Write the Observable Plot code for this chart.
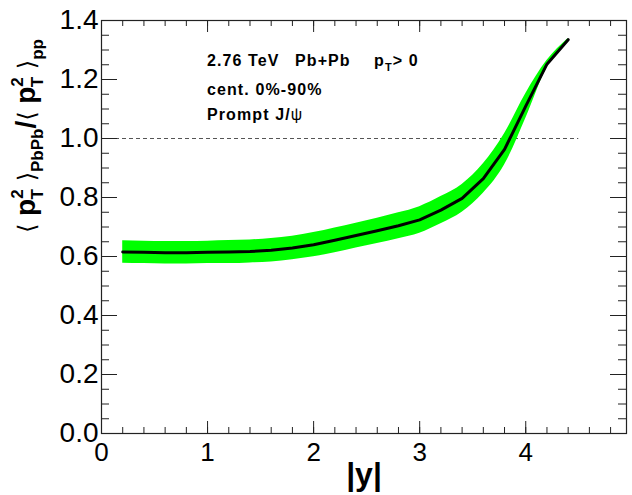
<!DOCTYPE html>
<html><head><meta charset="utf-8">
<script src="https://cdn.jsdelivr.net/npm/d3@7"></script>
<script src="https://cdn.jsdelivr.net/npm/@observablehq/plot@0.6"></script>
<style>body{margin:0;background:#fff;}</style>
</head><body><div id="chart"></div>
<script>
// |y| bins
const rapidity = [0.2,0.4,0.6,0.8,1.0,1.2,1.4,1.6,1.8,2.0,2.2,2.4,2.6,2.8,3.0,3.2,3.4,3.6,3.8,4.0,4.2,4.4];
// <pT^2>_PbPb / <pT^2>_pp central value
const ratio = [0.615,0.614,0.613,0.613,0.614,0.615,0.617,0.621,0.629,0.640,0.655,0.671,0.687,0.704,0.724,0.757,0.797,0.864,0.963,1.110,1.252,1.335];
// half-width of the uncertainty band
const ratioErr = [0.038,0.038,0.038,0.038,0.038,0.039,0.039,0.040,0.040,0.041,0.042,0.042,0.043,0.044,0.045,0.046,0.047,0.050,0.053,0.042,0.012,0.004];
const yTickValues = [0,0.2,0.4,0.6,0.8,1.0,1.2,1.4];
const xTickValues = [0,1,2,3,4];
const yMinor = d3.range(0, 1.4001, 0.05);
const xMinor = d3.range(0, 4.95, 0.2);
const refLevel = [1];

const rows = rapidity.map((x, i) => ({x, y: ratio[i], lo: ratio[i] - ratioErr[i], hi: ratio[i] + ratioErr[i]}));

const W = 632, H = 495, ML = 101, MR = 6, MT = 20, MB = 62;
const PW = W - ML - MR, PH = H - MT - MB;
const font = "'Liberation Sans', Arial, Helvetica, sans-serif";

const svg = Plot.plot({
  width: W, height: H,
  marginLeft: ML, marginRight: MR, marginTop: MT, marginBottom: MB,
  style: {fontFamily: font, background: "#fff", color: "#000"},
  x: {domain: [0, 4.95]},
  y: {domain: [0, 1.4]},
  marks: [
    Plot.ruleY(refLevel, {x1: 0, x2: 4.5, stroke: "#555", strokeWidth: 1, strokeDasharray: "4,3"}),
    Plot.areaY(rows, {x: "x", y1: "lo", y2: "hi", fill: "#00ff00", curve: "monotone-x"}),
    Plot.line(rows, {x: "x", y: "y", stroke: "#000", strokeWidth: 3}),
    // inward ticks, ROOT style
    Plot.tickY(yTickValues, {insetRight: PW - 16, stroke: "#222"}),
    Plot.tickY(yMinor, {insetRight: PW - 8, stroke: "#222"}),
    Plot.tickY(yTickValues, {insetLeft: PW - 16, stroke: "#222"}),
    Plot.tickY(yMinor, {insetLeft: PW - 8, stroke: "#222"}),
    Plot.tickX(xTickValues, {insetTop: PH - 12, stroke: "#222"}),
    Plot.tickX(xMinor, {insetTop: PH - 6, stroke: "#222"}),
    Plot.tickX(xTickValues, {insetBottom: PH - 12, stroke: "#222"}),
    Plot.tickX(xMinor, {insetBottom: PH - 6, stroke: "#222"}),
    Plot.frame({stroke: "#222", strokeWidth: 1.2}),
    Plot.axisY({ticks: yTickValues, tickSize: 0, tickPadding: 3, tickFormat: d3.format(".1f"), fontSize: 28, label: null, fill: "#000"}),
    Plot.axisX({ticks: xTickValues, tickSize: 0, tickPadding: 9, tickFormat: d3.format("d"), fontSize: 26, label: null, fill: "#000"})
  ]
});
document.getElementById("chart").appendChild(svg);

const s = d3.select(svg);
// x title
s.append("text").attr("x", 364).attr("y", 485).attr("text-anchor", "middle")
  .attr("font-family", font).attr("font-weight", "bold").attr("font-size", 32).text("|y|");

// y title
const yt = s.append("text").attr("transform", "translate(35,136) rotate(-90)")
  .attr("text-anchor", "middle").attr("font-family", font).attr("font-weight", "bold").attr("font-size", 28);
function bracketP(sel) {
  sel.append("tspan").attr("font-weight", "normal").attr("font-family", "DejaVu Sans").attr("font-size", 24).text("\u27E8 ");
  sel.append("tspan").text("p");
  sel.append("tspan").attr("font-size", 17).attr("dy", -12).text("2");
  sel.append("tspan").attr("font-size", 17).attr("dx", -10).attr("dy", 20).text("T");
  sel.append("tspan").attr("font-weight", "normal").attr("font-family", "DejaVu Sans").attr("font-size", 24).attr("dy", -8).text(" \u27E9");
}
bracketP(yt);
yt.append("tspan").attr("font-size", 17).attr("dy", 8).text("PbPb");
yt.append("tspan").attr("dy", -8).text("/");
bracketP(yt);
yt.append("tspan").attr("font-size", 17).attr("dy", 8).text("pp");

// annotations
const ann = (x, y) => s.append("text").attr("x", x).attr("y", y).attr("text-anchor", "start").attr("font-family", font)
  .attr("font-weight", "bold").attr("font-size", 16).attr("letter-spacing", 1.1);
ann(207, 66).text("2.76 TeV");
ann(295, 66).text("Pb+Pb");
const pt = ann(374, 66);
pt.append("tspan").text("p");
pt.append("tspan").attr("font-size", 11).attr("dy", 5).text("T");
pt.append("tspan").attr("dy", -5).text("> 0");
ann(207, 95).text("cent. 0%-90%");
const pj = ann(207, 120);
pj.append("tspan").text("Prompt J/");
pj.append("tspan").attr("font-weight", "normal").text("\u03C8");
</script>
</body></html>
